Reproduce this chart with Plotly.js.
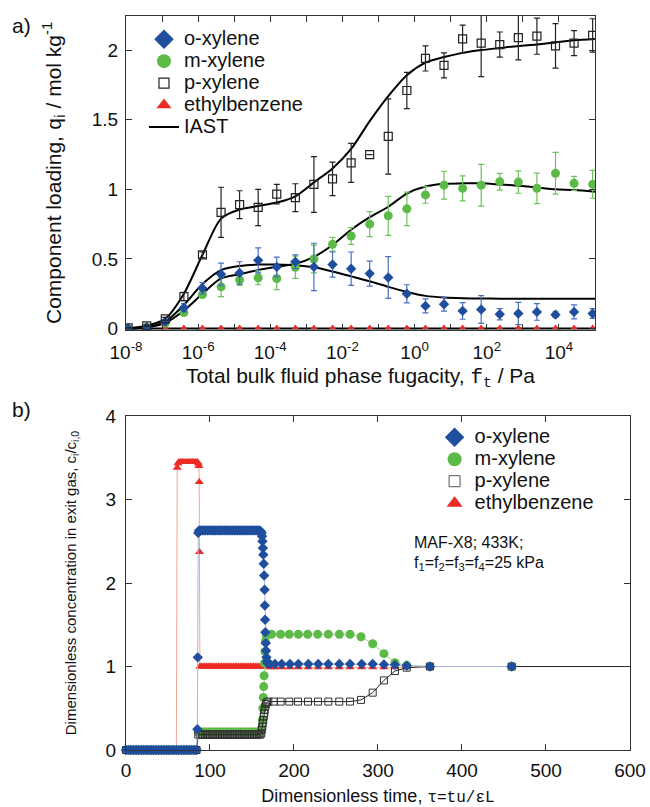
<!DOCTYPE html>
<html><head><meta charset="utf-8">
<script src="https://cdn.plot.ly/plotly-3.0.1.min.js"></script>
<style>html,body{margin:0;padding:0;background:#fff}</style>
</head><body><div id="chart" style="width:650px;height:807px"></div>
<script>
// ===== Panel a) : component loadings vs total fugacity =====
const fugacity = [1.15e-8, 3.76e-8, 1.23e-7, 4.03e-7, 1.32e-6, 4.32e-6, 1.41e-5, 4.62e-5, 1.51e-4, 4.95e-4,
  1.62e-3, 5.31e-3, 1.74e-2, 5.69e-2, 0.186, 0.610, 2.00, 6.53, 21.4, 70.0, 229, 750, 2455, 8035, 26300, 86100];
const oXylene = [0.0, 0.01, 0.05, 0.15, 0.29, 0.39, 0.40, 0.49, 0.443, 0.48, 0.443, 0.46, 0.43, 0.395, 0.367,
  0.25, 0.163, 0.175, 0.127, 0.137, 0.103, 0.108, 0.12, 0.10, 0.12, 0.108];
const oXyleneErr = [0.0, 0.005, 0.01, 0.03, 0.04, 0.08, 0.08, 0.09, 0.07, 0.05, 0.17, 0.09, 0.12, 0.09, 0.15,
  0.065, 0.05, 0.05, 0.06, 0.1, 0.04, 0.08, 0.06, 0.02, 0.05, 0.035];
const mXylene = [0.0, 0.01, 0.04, 0.115, 0.245, 0.30, 0.35, 0.365, 0.36, 0.44, 0.50, 0.605, 0.665, 0.75, 0.81,
  0.86, 0.96, 1.03, 1.007, 1.03, 1.055, 1.052, 1.007, 1.115, 1.043, 1.036];
const mXyleneErr = [0.0, 0.005, 0.01, 0.02, 0.02, 0.07, 0.04, 0.05, 0.08, 0.08, 0.1, 0.05, 0.06, 0.09, 0.14,
  0.12, 0.06, 0.1, 0.09, 0.15, 0.06, 0.08, 0.11, 0.15, 0.05, 0.1];
const pXylene = [0.005, 0.02, 0.07, 0.23, 0.53, 0.835, 0.89, 0.87, 0.966, 0.94, 1.035, 1.075, 1.19, 1.25, 1.38,
  1.71, 1.94, 1.89, 2.08, 2.05, 2.04, 2.09, 2.10, 2.03, 2.05, 2.105];
const pXyleneErr = [0.0, 0.005, 0.01, 0.03, 0.02, 0.18, 0.1, 0.13, 0.07, 0.1, 0.2, 0.12, 0.14, 0.0, 0.27,
  0.13, 0.09, 0.09, 0.1, 0.24, 0.09, 0.16, 0.13, 0.16, 0.09, 0.12];
const ethylbenzene = [0.008, 0.008, 0.008, 0.008, 0.008, 0.008, 0.008, 0.008, 0.008, 0.008, 0.008, 0.008, 0.008,
  0.008, 0.008, 0.008, 0.008, 0.008, 0.008, 0.008, 0.008, 0.008, 0.008, 0.008, 0.008, 0.008];

// IAST curves
const iastX = [1e-8, 3.76e-8, 1.23e-7, 4.03e-7, 1.32e-6, 4.32e-6, 1.41e-5, 4.62e-5, 1.51e-4, 4.95e-4,
  1.62e-3, 5.31e-3, 1.74e-2, 5.69e-2, 0.186, 0.610, 2.00, 6.53, 21.4, 70.0, 229, 750, 2455, 8035, 26300, 1e5];
const iastO = [0.0, 0.01, 0.05, 0.17, 0.32, 0.42, 0.45, 0.46, 0.46, 0.455, 0.44, 0.41, 0.375, 0.34, 0.30,
  0.263, 0.235, 0.223, 0.218, 0.216, 0.215, 0.215, 0.215, 0.215, 0.215, 0.215];
const iastM = [0.0, 0.01, 0.04, 0.13, 0.25, 0.36, 0.39, 0.42, 0.443, 0.465, 0.515, 0.60, 0.71, 0.80, 0.875,
  0.97, 1.02, 1.04, 1.043, 1.043, 1.035, 1.026, 1.014, 1.0, 0.995, 0.983];
const iastP = [0.0, 0.02, 0.07, 0.25, 0.53, 0.79, 0.855, 0.88, 0.905, 0.95, 1.05, 1.15, 1.29, 1.49, 1.67,
  1.82, 1.91, 1.95, 1.98, 2.0, 2.015, 2.03, 2.04, 2.055, 2.07, 2.08];
const iastE = [0, 0, 0, 0, 0, 0, 0, 0, 0, 0, 0, 0, 0, 0, 0, 0, 0, 0, 0, 0, 0, 0, 0, 0, 0, 0];

const fugTicks = [1e-8, 1e-6, 1e-4, 1e-2, 1, 100, 1e4];
const fugTickText = ['10<sup>-8</sup>', '10<sup>-6</sup>', '10<sup>-4</sup>', '10<sup>-2</sup>',
  '10<sup>0</sup>', '10<sup>2</sup>', '10<sup>4</sup>'];
const fugMinorTicks = [1e-7, 1e-5, 1e-3, 1e-1, 10, 1000, 1e5];
const loadTicks = [0, 0.5, 1, 1.5, 2];
const loadTickText = ['0', '0.5', '1', '1.5', '2'];

// ===== Panel b) : breakthrough, dimensionless concentrations =====
const tauO = [0,3,6,9,12,15,18,21,24,27,30,33,36,39,42,45,48,51,54,57,60,63,66,69,72,75,78,81,84,
  85,85.5,86,
  87,89,91,93,95,97,99,101,103,105,107,109,111,113,115,117,119,121,123,125,127,129,131,133,135,137,139,141,143,145,147,149,151,153,155,157,159,
  160.5,161.5,162,162.5,163,163.5,164,164.5,165,165.3,165.6,166,166.4,166.8,167.2,167.8,168.5,
  171.4,177.4,185.4,195.2,205.2,217.1,228.9,240.9,253.9,266.7,280.6,293.7,307.1,320.2,334.2,361.9,459.2];
const concO = [0,0,0,0,0,0,0,0,0,0,0,0,0,0,0,0,0,0,0,0,0,0,0,0,0,0,0,0,0,
  0.25,1.11,2.60,
  2.63,2.63,2.63,2.63,2.63,2.63,2.63,2.63,2.63,2.63,2.63,2.63,2.63,2.63,2.63,2.63,2.63,2.63,2.63,2.63,2.63,2.63,2.63,2.63,2.63,2.63,2.63,2.63,2.63,2.63,2.63,2.63,2.63,2.63,2.63,2.63,2.63,
  2.62,2.60,2.56,2.50,2.42,2.34,2.23,2.09,1.92,1.73,1.56,1.41,1.28,1.19,1.11,1.06,1.04,
  1.03,1.03,1.03,1.03,1.03,1.03,1.03,1.03,1.03,1.03,1.03,1.03,1.025,1.02,1.01,1.0,1.0];

const tauM = [0,3,6,9,12,15,18,21,24,27,30,33,36,39,42,45,48,51,54,57,60,63,66,69,72,75,78,81,84,
  86,87,
  90,93,96,99,102,105,108,111,114,117,120,123,126,129,132,135,138,141,144,147,150,153,156,159,
  160.5,161.5,162.5,163,163.5,164,164.5,165,165.5,166,167,
  173.4,184.1,194.4,205.2,216.3,228.2,240.9,254.0,266.7,279.8,293.7,307.1,320.2,334.2,361.9,459.2];
const concM = [0,0,0,0,0,0,0,0,0,0,0,0,0,0,0,0,0,0,0,0,0,0,0,0,0,0,0,0,0,
  0.215,0.215,
  0.215,0.215,0.215,0.215,0.215,0.215,0.215,0.215,0.215,0.215,0.215,0.215,0.215,0.215,0.215,0.215,0.215,0.215,0.215,0.215,0.215,0.215,0.215,0.215,
  0.22,0.26,0.36,0.50,0.63,0.76,0.89,1.04,1.18,1.30,1.37,
  1.385,1.385,1.385,1.385,1.385,1.385,1.385,1.385,1.385,1.357,1.273,1.154,1.046,1.014,1.0,1.0];

const tauP = [0,3,6,9,12,15,18,21,24,27,30,33,36,39,42,45,48,51,54,57,60,63,66,69,72,75,78,81,84,
  86,
  88,90,92,94,96,98,100,102,104,106,108,110,112,114,116,118,120,122,124,126,128,130,132,134,136,138,140,142,144,146,148,150,152,154,156,158,160,
  161,161.6,162.2,162.8,163.4,164,164.6,165.2,165.8,166.6,167.5,
  169.4,176.2,184.1,194.4,204.8,216.7,228.6,240.9,253.9,266.7,279.8,293.7,307.1,320.2,334.2,361.9,459.2,600];
const concP = [0,0,0,0,0,0,0,0,0,0,0,0,0,0,0,0,0,0,0,0,0,0,0,0,0,0,0,0,0,
  0.185,
  0.185,0.185,0.185,0.185,0.185,0.185,0.185,0.185,0.185,0.185,0.185,0.185,0.185,0.185,0.185,0.185,0.185,0.185,0.185,0.185,0.185,0.185,0.185,0.185,0.185,0.185,0.185,0.185,0.185,0.185,0.185,0.185,0.185,0.185,0.185,0.185,0.185,
  0.20,0.24,0.28,0.32,0.36,0.40,0.44,0.48,0.52,0.55,0.57,
  0.58,0.58,0.58,0.58,0.58,0.58,0.58,0.58,0.58,0.58,0.60,0.687,0.834,0.946,0.986,1.0,1.0,1.0];

const tauE = [0,3,6,9,12,15,18,21,24,27,30,33,36,39,42,45,48,51,54,57,60,
  61,62,63,
  65,67,69,71,73,75,77,79,81,83,85,
  86,86.8,87.2,87.6,88,
  90,92,94,96,98,100,102,104,106,108,110,112,114,116,118,120,122,124,126,128,130,132,134,136,138,140,142,144,146,148,150,152,154,156,158,160,162,164,
  171.4,177.4,185.4,195.2,205.2,217.1,228.9,240.9,253.9,266.7,280.6,293.7,307.1,320.2,334.2,361.9,459.2,600];
const concE = [0,0,0,0,0,0,0,0,0,0,0,0,0,0,0,0,0,0,0,0,0,
  3.38,3.43,3.45,
  3.45,3.45,3.45,3.45,3.45,3.45,3.45,3.45,3.45,3.45,3.45,
  3.43,3.40,3.21,2.37,1.0,
  1.0,1.0,1.0,1.0,1.0,1.0,1.0,1.0,1.0,1.0,1.0,1.0,1.0,1.0,1.0,1.0,1.0,1.0,1.0,1.0,1.0,1.0,1.0,1.0,1.0,1.0,1.0,1.0,1.0,1.0,1.0,1.0,1.0,1.0,1.0,1.0,1.0,1.0,
  0.99,0.99,0.99,0.99,0.99,0.99,0.99,0.99,0.99,0.99,0.99,0.99,0.99,0.99,0.99,1.0,1.0,1.0];

const seriesNames = ['o-xylene', 'm-xylene', 'p-xylene', 'ethylbenzene'];

// ===== styles =====
const BLUE = '#1f4e9e', GREEN = '#5cba47', RED = '#ec2b24';
const MONO = 'Liberation Mono, DejaVu Sans Mono, monospace';
const sz = (arr, s) => arr.map((_, i) => (arr[i] >= 600 ? 0 : s));
const legName = (n) => '<span style="font-size:20px">' + n + '</span>';
const noLine = {width: 0};

const traces = [];
// --- panel a: IAST lines
[iastO, iastM, iastP, iastE].forEach((ys) => {
  traces.push({x: iastX, y: ys, xaxis: 'x', yaxis: 'y', mode: 'lines', type: 'scatter',
    line: {color: '#000', width: 2, shape: 'spline', smoothing: 0.8}, showlegend: false, hoverinfo: 'skip'});
});
// --- panel a: points with error bars
traces.push({x: fugacity, y: ethylbenzene, xaxis: 'x', yaxis: 'y', mode: 'markers', type: 'scatter',
  marker: {symbol: 'triangle-up', size: 6, color: RED, opacity: 1, line: noLine}, showlegend: false, cliponaxis: false});
traces.push({x: fugacity, y: mXylene, xaxis: 'x', yaxis: 'y', mode: 'markers', type: 'scatter',
  error_y: {type: 'data', array: mXyleneErr, color: '#6cc35a', thickness: 1.2, width: 3},
  marker: {symbol: 'circle', size: 9, color: GREEN, opacity: 1, line: noLine}, showlegend: false});
traces.push({x: fugacity, y: oXylene, xaxis: 'x', yaxis: 'y', mode: 'markers', type: 'scatter',
  error_y: {type: 'data', array: oXyleneErr, color: '#4a6fc2', thickness: 1.2, width: 3},
  marker: {symbol: 'diamond', size: 8, color: BLUE, opacity: 1, line: noLine}, showlegend: false});
traces.push({x: fugacity, y: pXylene, xaxis: 'x', yaxis: 'y', mode: 'markers', type: 'scatter',
  error_y: {type: 'data', array: pXyleneErr, color: '#222', thickness: 1.2, width: 3},
  marker: {symbol: 'square-open', size: 8, color: '#222', line: {width: 1.2, color: '#222'}, opacity: 1}, showlegend: false});
// --- panel a legend entries
const legA = [
  {name: seriesNames[0], marker: {symbol: 'diamond', size: 15, color: BLUE, line: noLine}},
  {name: seriesNames[1], marker: {symbol: 'circle', size: 14, color: GREEN, line: noLine}},
  {name: seriesNames[2], marker: {symbol: 'square-open', size: 10, color: '#222', line: {width: 1.2, color: '#222'}}},
  {name: seriesNames[3], marker: {symbol: 'triangle-up', size: 13, color: RED, line: noLine}}
];
legA.forEach((l, i) => traces.push({x: [null], y: [null], xaxis: 'x', yaxis: 'y', type: 'scatter', mode: 'markers',
  name: legName(l.name), marker: l.marker, legend: 'legend', legendrank: i + 1}));
traces.push({x: [null], y: [null], xaxis: 'x', yaxis: 'y', type: 'scatter', mode: 'lines', name: legName('IAST'),
  line: {color: '#000', width: 2}, legend: 'legend', legendrank: 5});

// --- panel b series
traces.push({x: tauE, y: concE, xaxis: 'x2', yaxis: 'y2', type: 'scatter', mode: 'lines+markers',
  line: {color: '#f5a595', width: 1},
  marker: {symbol: 'triangle-up', size: sz(tauE, 8), color: RED, opacity: 1, line: noLine},
  showlegend: false, cliponaxis: false});
traces.push({x: tauM, y: concM, xaxis: 'x2', yaxis: 'y2', type: 'scatter', mode: 'lines+markers',
  line: {color: '#9fd68f', width: 1},
  marker: {symbol: 'circle', size: sz(tauM, 9), color: GREEN, opacity: 1, line: noLine},
  showlegend: false, cliponaxis: false});
traces.push({x: tauP, y: concP, xaxis: 'x2', yaxis: 'y2', type: 'scatter', mode: 'lines+markers',
  line: {color: '#222', width: 1},
  marker: {symbol: 'square-open', size: sz(tauP, 7), color: '#333', line: {width: 1, color: '#333'}, opacity: 1},
  showlegend: false, cliponaxis: false});
traces.push({x: tauO, y: concO, xaxis: 'x2', yaxis: 'y2', type: 'scatter', mode: 'lines+markers',
  line: {color: '#a9b7e2', width: 1},
  marker: {symbol: 'diamond', size: sz(tauO, 8), color: BLUE, opacity: 1, line: noLine},
  showlegend: false, cliponaxis: false});
// --- panel b legend entries
const legB = [
  {name: seriesNames[0], marker: {symbol: 'diamond', size: 15, color: BLUE, line: noLine}},
  {name: seriesNames[1], marker: {symbol: 'circle', size: 14, color: GREEN, line: noLine}},
  {name: seriesNames[2], marker: {symbol: 'square-open', size: 11, color: '#555', line: {width: 1, color: '#555'}}},
  {name: seriesNames[3], marker: {symbol: 'triangle-up', size: 14, color: RED, line: noLine}}
];
legB.forEach((l, i) => traces.push({x: [null], y: [null], xaxis: 'x2', yaxis: 'y2', type: 'scatter', mode: 'markers',
  name: legName(l.name), marker: l.marker, legend: 'legend2', legendrank: i + 1}));

const axBase = {showline: true, linecolor: '#333', linewidth: 1, mirror: 'ticks', ticks: 'inside', ticklen: 6,
  tickcolor: '#333', showgrid: false, zeroline: false, tickfont: {size: 19, color: '#111'}};

const layout = {
  width: 650, height: 807, margin: {l: 0, r: 0, t: 0, b: 0},
  paper_bgcolor: '#fff', plot_bgcolor: '#fff',
  font: {family: 'Liberation Sans, Arial, sans-serif', color: '#111'},
  xaxis: Object.assign({}, axBase, {domain: [0.1938, 0.9154], anchor: 'y', type: 'log', range: [-8, 5],
    tickmode: 'array', tickvals: fugTicks, ticktext: fugTickText, ticklabelstandoff: 5,
    minor: {tickmode: 'array', tickvals: fugMinorTicks, ticks: 'inside', ticklen: 6, tickcolor: '#333'},
    title: {text: 'Total bulk fluid phase fugacity, <span style="font-family:' + MONO + '">f<sub>t</sub></span> / Pa',
      font: {size: 21}, standoff: 6}}),
  yaxis: Object.assign({}, axBase, {domain: [0.5911, 0.9802], anchor: 'x', range: [-0.01, 2.245],
    tickmode: 'array', tickvals: loadTicks, ticktext: loadTickText, ticklabelstandoff: 3,
    title: {text: 'Component loading, <span style="font-family:' + MONO + '">q</span><sub>i</sub> / mol kg<sup>-1</sup>',
      font: {size: 21}, standoff: 24}}),
  xaxis2: Object.assign({}, axBase, {domain: [0.1938, 0.9692], anchor: 'y2', range: [0, 600], dtick: 100,
    ticklabelstandoff: 3,
    title: {text: 'Dimensionless time, <span style="font-family:' + MONO + ';font-size:16px">τ=tu/εL</span>',
      font: {size: 18}, standoff: 10}}),
  yaxis2: Object.assign({}, axBase, {domain: [0.0706, 0.4845], anchor: 'x2', range: [0, 4], dtick: 1,
    ticklabelstandoff: 5,
    title: {text: 'Dimensionless concentration in exit gas, c<sub>i</sub>/c<sub>i,0</sub>', font: {size: 15}, standoff: 25}}),
  legend: {x: 0.2215, y: 0.9713, xanchor: 'left', yanchor: 'top', bgcolor: 'rgba(0,0,0,0)',
    font: {size: 14.6}, tracegroupgap: 0},
  legend2: {x: 0.6686, y: 0.478, xanchor: 'left', yanchor: 'top', bgcolor: 'rgba(0,0,0,0)',
    font: {size: 14.6}, tracegroupgap: 0},
  annotations: [
    {text: 'a)', xref: 'paper', yref: 'paper', x: 0.015, y: 0.969, xanchor: 'left', yanchor: 'middle', showarrow: false, font: {size: 21}},
    {text: 'b)', xref: 'paper', yref: 'paper', x: 0.015, y: 0.492, xanchor: 'left', yanchor: 'middle', showarrow: false, font: {size: 21}},
    {text: 'MAF-X8; 433K;', xref: 'paper', yref: 'paper', x: 0.634, y: 0.3275, xanchor: 'left', yanchor: 'middle', showarrow: false, font: {size: 16}},
    {text: 'f<sub>1</sub>=f<sub>2</sub>=f<sub>3</sub>=f<sub>4</sub>=25 kPa', xref: 'paper', yref: 'paper', x: 0.634, y: 0.302,
      xanchor: 'left', yanchor: 'middle', showarrow: false, font: {size: 16}}
  ]
};

Plotly.newPlot('chart', traces, layout, {displayModeBar: false, staticPlot: true});
</script>
</body></html>
